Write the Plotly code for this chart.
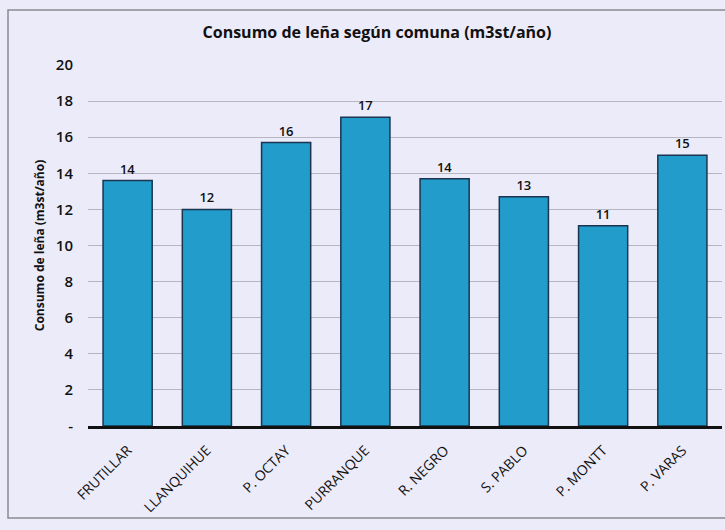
import plotly.graph_objects as go

comunas = ["FRUTILLAR", "LLANQUIHUE", "P. OCTAY", "PURRANQUE", "R. NEGRO", "S. PABLO", "P. MONTT", "P. VARAS"]
consumo = [13.6, 12.0, 15.7, 17.1, 13.7, 12.7, 11.1, 15.0]
y_ticks = [0, 2, 4, 6, 8, 10, 12, 14, 16, 18, 20]
y_tick_labels = ["-", "2", "4", "6", "8", "10", "12", "14", "16", "18", "20"]

FONT = "Open Sans"
BG = "#ECEBF9"

fig = go.Figure(
    go.Bar(
        x=comunas,
        y=consumo,
        marker=dict(color="#229CCB", line=dict(color="#1B3550", width=1.5)),
        texttemplate="%{y:.0f}",
        textposition="outside",
        textfont=dict(family=FONT, size=13, color="#111111", weight=600),
        cliponaxis=False,
    )
)

fig.update_layout(
    width=725,
    height=530,
    margin=dict(l=88, r=3, t=65, b=104),
    paper_bgcolor=BG,
    plot_bgcolor=BG,
    bargap=0.38,
    showlegend=False,
    font=dict(family=FONT, color="#111111"),
    title=dict(
        text="<b>Consumo de leña según comuna (m3st/año)</b>",
        x=377 / 725,
        xanchor="center",
        xref="container",
        y=1 - 32 / 530,
        yanchor="middle",
        font=dict(family=FONT, size=16, color="#111111"),
    ),
    xaxis=dict(
        tickangle=-45,
        tickfont=dict(family=FONT, size=14, color="#111111"),
        showline=True,
        linecolor="#111111",
        linewidth=2.5,
        showgrid=False,
        ticks="",
        ticklabelstandoff=8,
    ),
    yaxis=dict(
        range=[0, 20],
        tickvals=y_ticks,
        ticktext=y_tick_labels,
        tickfont=dict(family=FONT, size=15, color="#111111", weight=600),
        showgrid=True,
        gridcolor="#B6B6C0",
        gridwidth=1,
        zeroline=False,
        showline=False,
        ticks="",
        ticklabelstandoff=14,
        title=dict(
            text="<b>Consumo de leña (m3st/año)</b>",
            font=dict(family=FONT, size=12, color="#111111"),
            standoff=8,
        ),
    ),
    shapes=[
        dict(
            type="rect",
            xref="paper",
            yref="paper",
            x0=-80 / 634,
            x1=1.05,
            y0=-92 / 361,
            y1=1 + 55 / 361,
            line=dict(color="#8A8A90", width=1.5),
            fillcolor="rgba(0,0,0,0)",
            layer="below",
        )
    ],
)

fig.write_html(
    "out.html",
    config={"displayModeBar": False},
    post_script="document.body.style.margin='0px';document.body.style.padding='0px';",
)
